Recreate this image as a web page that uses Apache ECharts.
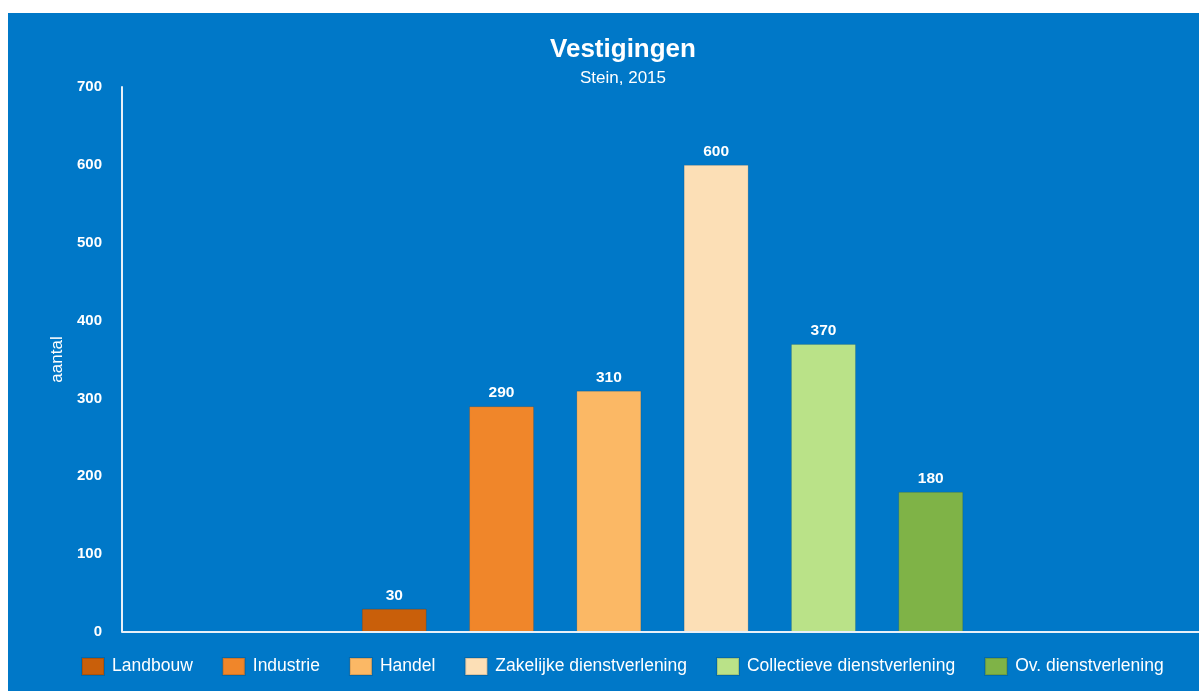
<!DOCTYPE html>
<html><head><meta charset="utf-8">
<script src="https://cdn.jsdelivr.net/npm/echarts@6/dist/echarts.min.js"></script>
<style>html,body{margin:0;padding:0;background:#fff;}#c{position:absolute;left:8px;top:13px;width:1191px;height:678px;}</style>
</head><body><div id="c"></div>
<script>
const categories = ['', '', 'Landbouw', 'Industrie', 'Handel', 'Zakelijke dienstverlening', 'Collectieve dienstverlening', 'Ov. dienstverlening', '', ''];
const seriesNames = ['Landbouw', 'Industrie', 'Handel', 'Zakelijke dienstverlening', 'Collectieve dienstverlening', 'Ov. dienstverlening'];
const values = [30, 290, 310, 600, 370, 180];
const colors = ['#C95F0A', '#F0862A', '#FBB865', '#FCDFB6', '#BAE288', '#7FB347'];
const yTicks = [0, 100, 200, 300, 400, 500, 600, 700];

const FONT = 'Liberation Sans, Arial';
const chart = echarts.init(document.getElementById('c'));
const series = seriesNames.map((name, i) => {
  const data = categories.map(c => c === name ? values[i] : '-');
  return {
    name, type: 'bar', stack: 'all', barWidth: 65, data,
    itemStyle: { color: colors[i], borderColor: 'rgba(0,0,0,0.12)', borderWidth: 1 },
    label: { show: true, position: 'top', distance: 5, color: '#fff', fontWeight: 'bold', fontSize: 15.5, fontFamily: FONT }
  };
});
chart.setOption({
  backgroundColor: '#0078C8',
  animation: false,
  textStyle: { fontFamily: FONT },
  title: {
    text: 'Vestigingen', subtext: 'Stein, 2015',
    left: 610, textAlign: 'center', top: 19, itemGap: 7,
    textStyle: { color: '#fff', fontSize: 26, fontWeight: 'bold', fontFamily: FONT },
    subtextStyle: { color: '#fff', fontSize: 17, fontFamily: FONT }
  },
  legend: {
    data: seriesNames, top: 639, left: 68, itemWidth: 22, itemHeight: 17, itemGap: 29,
    icon: 'rect',
    textStyle: { color: '#fff', fontSize: 17.5, fontFamily: FONT, padding: [0, 0, 0, 3] }
  },
  grid: { left: 118, right: -4, top: 74, bottom: 59, containLabel: false },
  xAxis: {
    type: 'category', data: categories,
    axisLine: { show: false }, axisTick: { show: false }, axisLabel: { show: false }
  },
  yAxis: {
    type: 'value', min: yTicks[0], max: yTicks[yTicks.length - 1], interval: 100, offset: 4,
    name: 'aantal', nameLocation: 'middle', nameGap: 55, nameRotate: 90,
    nameTextStyle: { color: '#fff', fontSize: 17, fontFamily: FONT },
    axisLine: { show: true, lineStyle: { color: '#E8F0F8', width: 2 } },
    axisTick: { show: false },
    splitLine: { show: false },
    axisLabel: { color: '#fff', fontSize: 15, fontWeight: 'bold', margin: 20, fontFamily: FONT }
  },
  series: series.concat([{
    type: 'line', xAxisIndex: 0, yAxisIndex: 0, silent: true, data: [],
    markLine: {
      silent: true, symbol: 'none', label: { show: false },
      lineStyle: { color: '#E8F0F8', width: 2, type: 'solid' },
      data: [[{ x: 114, yAxis: 0 }, { x: 1191, yAxis: 0 }]]
    }
  }])
});
</script></body></html>
